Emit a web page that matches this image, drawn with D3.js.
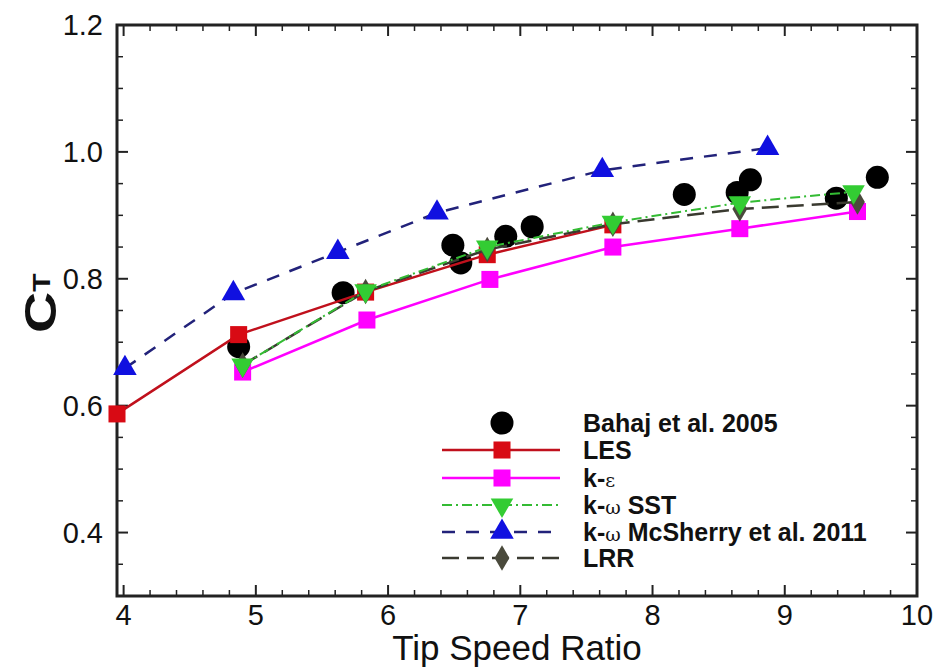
<!DOCTYPE html>
<html><head><meta charset="utf-8">
<script src="https://cdn.jsdelivr.net/npm/d3@7"></script>
<style>body{margin:0;background:#fff}svg{display:block}</style>
</head><body>
<svg id="c" width="937" height="669"></svg>
<script>
// ---- data ----
const xTicks = [4,5,6,7,8,9,10];
const yTicks = [0.4,0.6,0.8,1.0,1.2];
const yTickLabels = ["0.4","0.6","0.8","1.0","1.2"];
const bahaj = [[4.87,0.693],[5.66,0.778],[6.49,0.853],[6.55,0.825],[6.89,0.867],[7.09,0.882],[8.24,0.933],[8.64,0.936],[8.74,0.956],[9.39,0.927],[9.70,0.960]];
const les = [[3.95,0.587],[4.87,0.712],[5.83,0.779],[6.75,0.838],[7.70,0.885]];
const kEps = [[4.90,0.653],[5.84,0.735],[6.77,0.799],[7.70,0.850],[8.66,0.879],[9.55,0.906]];
const kwSST = [[4.90,0.664],[5.83,0.781],[6.75,0.850],[7.70,0.889],[8.66,0.920],[9.52,0.937]];
const mcSherry = [[4.01,0.659],[4.83,0.777],[5.62,0.842],[6.37,0.904],[7.62,0.971],[8.87,1.006]];
const lrr = [[4.90,0.664],[5.83,0.780],[6.75,0.846],[7.70,0.886],[8.66,0.910],[9.55,0.921]];
const legendNames = [["Bahaj et al. 2005"],["LES"],["k-","\u03b5",""],["k-","\u03c9"," SST"],["k-","\u03c9"," McSherry et al. 2011"],["LRR"]];

// ---- layout ----
const svg = d3.select("#c");
const L=117, R=917, T=25, B=596;
const x = d3.scaleLinear().domain([3.95,10]).range([L,R]);
const y = d3.scaleLinear().domain([0.3,1.2]).range([B,T]);
const axisCol = "#222";

// minor/major ticks (inward, all four sides)
const g = svg.append("g");
const xMinor = d3.range(4,10.001,0.2);
const yMinor = d3.range(0.3,1.2001,0.05);
xMinor.forEach(v=>{
  const major = Math.abs(v-Math.round(v))<1e-6;
  const len = major?11:6;
  g.append("line").attr("x1",x(v)).attr("x2",x(v)).attr("y1",B).attr("y2",B-len).attr("stroke",axisCol).attr("stroke-width",major?2:1.5);
  g.append("line").attr("x1",x(v)).attr("x2",x(v)).attr("y1",T).attr("y2",T+len).attr("stroke",axisCol).attr("stroke-width",major?2:1.5);
});
yMinor.forEach(v=>{
  const major = yTicks.some(t=>Math.abs(t-v)<1e-6);
  const len = major?11:6;
  g.append("line").attr("y1",y(v)).attr("y2",y(v)).attr("x1",L).attr("x2",L+len).attr("stroke",axisCol).attr("stroke-width",major?2:1.5);
  g.append("line").attr("y1",y(v)).attr("y2",y(v)).attr("x1",R).attr("x2",R-len).attr("stroke",axisCol).attr("stroke-width",major?2:1.5);
});
g.append("rect").attr("x",L).attr("y",T).attr("width",R-L).attr("height",B-T).attr("fill","none").attr("stroke",axisCol).attr("stroke-width",3);

// tick labels
const font = "'Liberation Sans', Arial, sans-serif";
svg.append("g").selectAll("text").data(xTicks).join("text")
  .attr("x",d=>x(d)).attr("y",625).attr("text-anchor","middle")
  .attr("font-family",font).attr("font-size",29).attr("fill","#111").text(d=>d);
svg.append("g").selectAll("text").data(yTicks).join("text")
  .attr("x",103).attr("y",d=>y(d)+10).attr("text-anchor","end")
  .attr("font-family",font).attr("font-size",29).attr("fill","#111").text((d,i)=>yTickLabels[i]);

// axis titles
svg.append("text").attr("x",517).attr("y",660).attr("text-anchor","middle")
  .attr("font-family",font).attr("font-size",35).attr("fill","#111").text("Tip Speed Ratio");
const yt = svg.append("text").attr("transform","translate(56,333) rotate(-90) scale(1.3,1)")
  .attr("text-anchor","start").attr("font-family",font).attr("font-weight","bold").attr("fill","#111");
yt.append("tspan").attr("font-size",44).text("C");
yt.append("tspan").attr("font-size",23).attr("dy",-6).text("T");

// ---- series ----
const line = d3.line().x(d=>x(d[0])).y(d=>y(d[1]));
function sym(type,size){return d3.symbol().type(type).size(size)();}

// Bahaj circles first
svg.append("g").selectAll("circle").data(bahaj).join("circle")
  .attr("cx",d=>x(d[0])).attr("cy",d=>y(d[1])).attr("r",11.5).attr("fill","#000");

const series = [
  {data:les, stroke:"#c0101c", dash:null, width:2.5, marker:d3.symbolSquare, msize:290, mfill:"#d80a14"},
  {data:kEps, stroke:"#ff00ff", dash:null, width:2.5, marker:d3.symbolSquare, msize:290, mfill:"#ff00ff"},
  {data:mcSherry, stroke:"#22227a", dash:"13,11", width:2.5, marker:d3.symbolTriangle, msize:240, mfill:"#1010e0"},
  {data:lrr, stroke:"#3a3a30", dash:"17,8", width:2.5, marker:d3.symbolDiamond, msize:190, mfill:"#4a4a3c"},
  {data:kwSST, stroke:"#33bb33", dash:"10,4,2,4", width:2, marker:d3.symbolTriangle, msize:220, mfill:"#33cc33", rot:180},
];
series.forEach(s=>{
  svg.append("path").attr("d",line(s.data)).attr("fill","none").attr("stroke",s.stroke)
    .attr("stroke-width",s.width).attr("stroke-dasharray",s.dash);
  svg.append("g").selectAll("path").data(s.data).join("path")
    .attr("d",sym(s.marker,s.msize))
    .attr("transform",d=>`translate(${x(d[0])},${y(d[1])})${s.rot?` rotate(${s.rot})`:""}`)
    .attr("fill",s.mfill);
});

// ---- legend ----
const legRows = [423,450,478,505,532,558];
const lx1=442, lx2=560, lmx=502, ltx=583;
const legSpec = [
  {type:"circle"},
  series[0], series[1], series[4], series[2], series[3]
];
const lg = svg.append("g");
legSpec.forEach((s,i)=>{
  const yy = legRows[i];
  if(s.type==="circle"){
    lg.append("circle").attr("cx",lmx).attr("cy",yy).attr("r",11.5).attr("fill","#000");
  } else {
    lg.append("line").attr("x1",lx1).attr("x2",lx2).attr("y1",yy).attr("y2",yy)
      .attr("stroke",s.stroke).attr("stroke-width",s.width).attr("stroke-dasharray",s.dash);
    lg.append("path").attr("d",sym(s.marker,s.msize))
      .attr("transform",`translate(${lmx},${yy})${s.rot?` rotate(${s.rot})`:""}`).attr("fill",s.mfill);
  }
  const t = lg.append("text").attr("x",ltx).attr("y",yy+9).attr("font-family",font).attr("font-weight","bold")
    .attr("font-size",25).attr("fill","#111");
  const parts = legendNames[i];
  t.append("tspan").text(parts[0]);
  if(parts.length>1){
    t.append("tspan").attr("font-family","'DejaVu Serif', 'Liberation Serif', serif").attr("font-weight","normal").attr("font-size",19).text(parts[1]);
    if(parts[2]) t.append("tspan").text(parts[2]);
  }
});
</script>
</body></html>
